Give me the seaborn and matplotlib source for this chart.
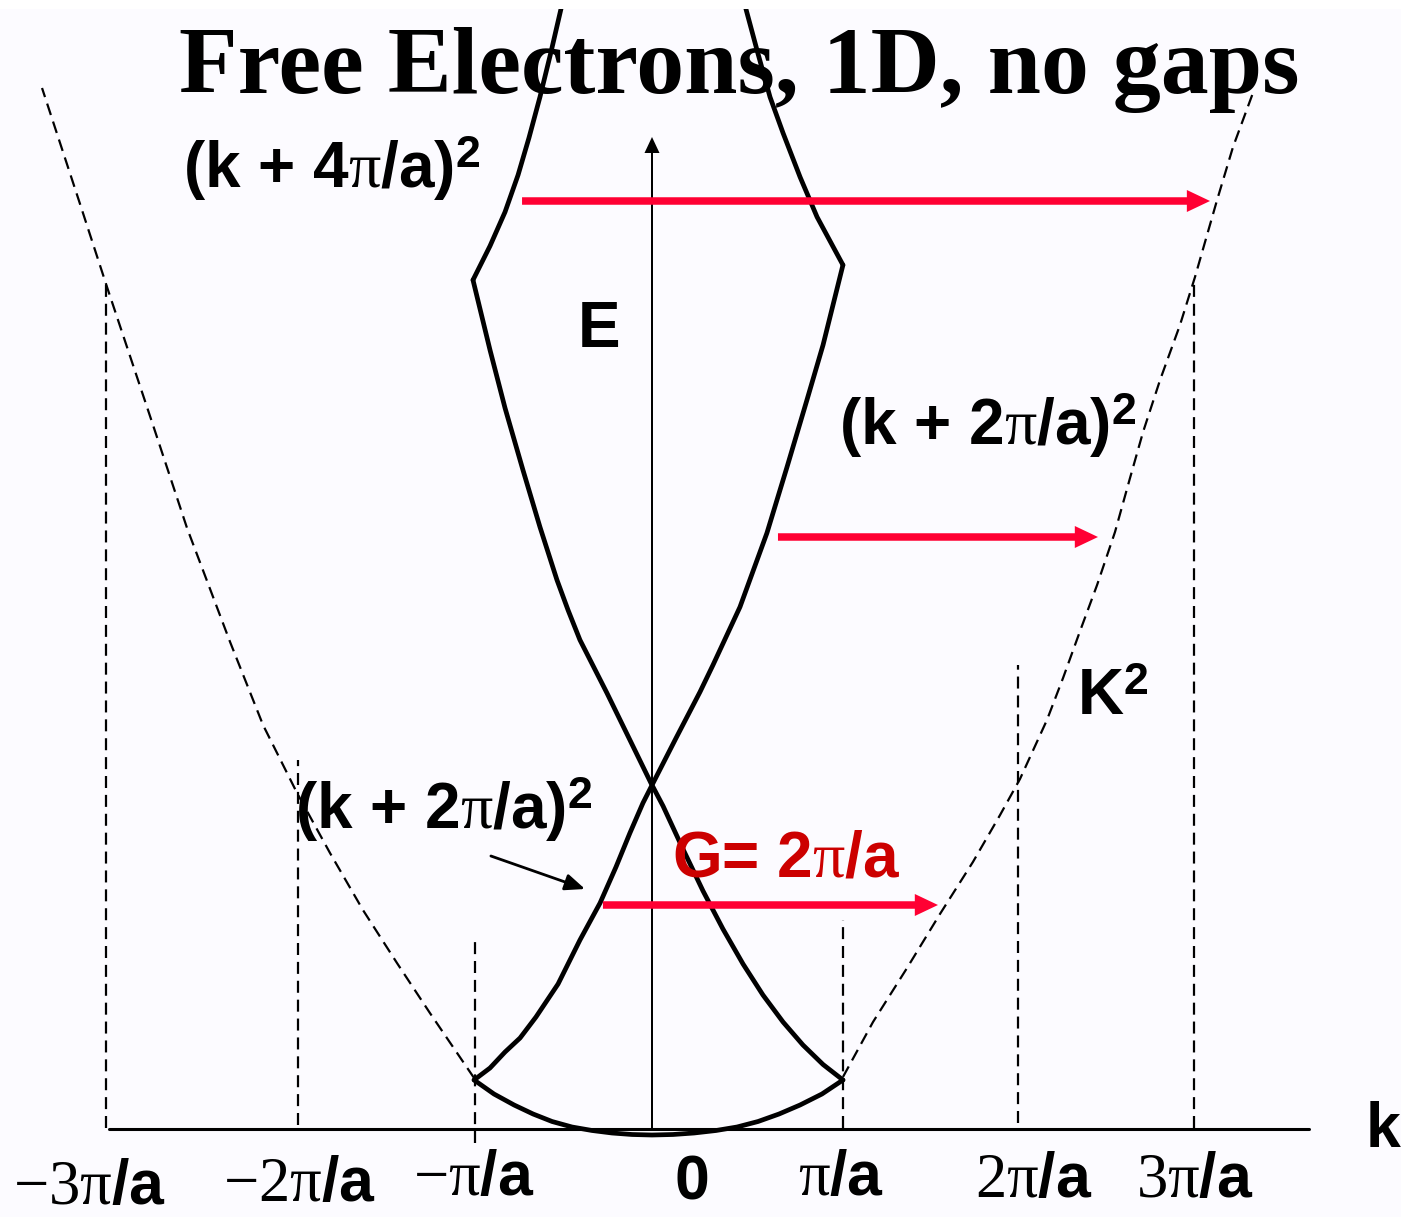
import matplotlib
matplotlib.use("Agg")
import matplotlib.pyplot as plt
import seaborn as sns

# k in units of pi/a, E in arbitrary energy units (k axis at E = 0)

# free-electron parabola K^2 outside the first zone (dashed)
k2_left_k = [-0.983, -1.227, -1.409, -1.597, -1.779, -1.961, -2.149, -2.331,
             -2.569, -2.757, -3.011, -3.160, -3.370]
k2_left_E = [0.51, 1.16, 1.66, 2.19, 2.76, 3.36, 4.04, 4.87,
             6.01, 7.04, 8.42, 9.25, 10.41]
k2_right_k = [1.055, 1.221, 1.409, 1.591, 1.773, 1.923, 2.033, 2.182, 2.271, 2.365,
              2.459, 2.558, 2.641, 2.713, 2.807, 2.917, 3.000, 3.122, 3.210, 3.320]
k2_right_E = [0.52, 1.07, 1.61, 2.15, 2.67, 3.14, 3.50, 4.09, 4.51, 4.98,
              5.44, 5.97, 6.51, 6.97, 7.49, 8.04, 8.52, 9.29, 9.82, 10.36]

# lowest band, k^2 inside the first zone
band1_k = [-0.983, -0.873, -0.762, -0.657, -0.552, -0.442, -0.331, -0.221, -0.110, 0.0,
           0.116, 0.232, 0.354, 0.470, 0.586, 0.702, 0.818, 0.939, 1.055]
band1_E = [0.49, 0.35, 0.24, 0.15, 0.075, 0.02, -0.015, -0.04, -0.055, -0.06,
           -0.055, -0.04, -0.015, 0.02, 0.075, 0.15, 0.24, 0.35, 0.49]

# (k - 2pi/a)^2 folded back into the first zone
band_m2_k = [-0.989, -0.895, -0.812, -0.713, -0.619, -0.525, -0.464, -0.398, -0.249,
             -0.122, -0.006, 0.061, 0.171, 0.282, 0.392, 0.503, 0.613, 0.724, 0.834,
             0.945, 1.055]
band_m2_E = [8.49, 7.79, 7.21, 6.59, 6.02, 5.49, 5.19, 4.89, 4.36,
             3.89, 3.46, 3.23, 2.80, 2.38, 2.00, 1.65, 1.34, 1.07, 0.84,
             0.645, 0.49]

# (k + 2pi/a)^2 folded back into the first zone
band_p2_k = [1.055, 0.945, 0.856, 0.746, 0.635, 0.486, 0.337, 0.265, 0.133, 0.006,
             -0.050, -0.122, -0.199, -0.287, -0.398, -0.519, -0.641, -0.729, -0.812,
             -0.895, -0.983]
band_p2_E = [8.64, 7.84, 7.29, 6.62, 5.96, 5.22, 4.64, 4.37, 3.91, 3.46,
             3.26, 2.96, 2.62, 2.26, 1.89, 1.45, 1.12, 0.91, 0.77,
             0.61, 0.49]

# (k + 4pi/a)^2 and (k - 4pi/a)^2 branches
band_p4_k = [-0.989, -0.895, -0.812, -0.740, -0.680, -0.619, -0.558, -0.503, -0.486]
band_p4_E = [8.49, 8.83, 9.17, 9.54, 9.91, 10.32, 10.77, 11.20, 11.34]
band_m4_k = [1.055, 0.912, 0.818, 0.724, 0.652, 0.580, 0.519, 0.503]
band_m4_E = [8.64, 9.12, 9.52, 9.96, 10.32, 10.79, 11.20, 11.34]

# zone boundaries (dashed verticals) and their visible extent
zone_k = [-3.017, -1.956, -0.978, 1.055, 2.022, 2.994]
zone_top = [8.49, 3.69, 1.93, 2.09, 4.64, 8.49]
zone_bottom = [0.01, 0.04, -0.14, 0.01, 0.06, 0.01]

# k axis extent and top of the E axis
k_axis = [-3.0, 3.63]
E_axis_top = 9.92

# translations by a reciprocal lattice vector G
shift_from_k = [-0.718, 0.696, -0.271]
shift_to_k = [3.083, 2.464, 1.580]
shift_E = [9.28, 5.92, 2.24]

SQ = r"$^{\mathsf{2}}$"
PI = r"$\mathrm{\pi}$"
tick_labels = [r"$\mathrm{-3\pi}$/a", r"$\mathrm{-2\pi}$/a", r"$\mathrm{-\pi}$/a", "0",
               PI + "/a", r"$\mathrm{2\pi}$/a", r"$\mathrm{3\pi}$/a"]

title = "Free Electrons, 1D, no gaps"

# ---------------------------------------------------------------- style
sns.set_theme(style="white")
plt.rcParams["font.family"] = ["Liberation Sans", "DejaVu Sans"]
plt.rcParams["text.color"] = "black"
plt.rcParams["mathtext.fontset"] = "custom"
plt.rcParams["mathtext.rm"] = "Liberation Serif"
plt.rcParams["mathtext.it"] = "Liberation Serif:italic"
plt.rcParams["mathtext.bf"] = "Liberation Serif:bold"
plt.rcParams["mathtext.sf"] = "Liberation Sans:bold"

BG = "#FCFBFF"
ARROW_RED = "#FF0033"
TEXT_RED = "#CC0000"
DASH = (0, (5.4, 3.1))

W, H = 1401, 1217
fig = plt.figure(figsize=(W / 100, H / 100), dpi=100, facecolor="white")
ax = fig.add_axes([0, 0, 1, 1 - 9 / H])
ax.set_facecolor(BG)
ax.set_xlim(-652 / 181, (W - 652) / 181)
ax.set_ylim((1129 - H) / 100, (1129 - 9) / 100)
ax.set_xticks([])
ax.set_yticks([])
sns.despine(ax=ax, left=True, bottom=True)


def curve(k, E, dashed=False):
    sns.lineplot(x=k, y=E, ax=ax, sort=False, estimator=None, color="black",
                 linewidth=1.6 if dashed else 3.4,
                 linestyle=DASH if dashed else "-", zorder=3)


# dashed K^2 parabola and zone boundaries
curve(k2_left_k, k2_left_E, dashed=True)
curve(k2_right_k, k2_right_E, dashed=True)
ax.vlines(zone_k, zone_bottom, zone_top, colors="black", linewidth=1.6,
          linestyles=[DASH], zorder=2)

# k axis and E axis
ax.plot(k_axis, [0, 0], color="black", linewidth=2.2, zorder=2)
ax.arrow(0, 0, 0, E_axis_top, width=0.011, head_width=0.083, head_length=0.16,
         length_includes_head=True, color="black", linewidth=0, zorder=4)

# folded bands
curve(band1_k, band1_E)
curve(band_m2_k, band_m2_E)
curve(band_p2_k, band_p2_E)
curve(band_p4_k, band_p4_E)
curve(band_m4_k, band_m4_E)

# G translations
for k0, k1, e in zip(shift_from_k, shift_to_k, shift_E):
    ax.arrow(k0, e, k1 - k0, 0, width=0.075, head_width=0.22, head_length=0.128,
             length_includes_head=True, color=ARROW_RED, linewidth=0, zorder=5)

# pointer to the (k + 2pi/a)^2 branch
ax.annotate("", xy=(-0.370, 2.40), xytext=(-0.890, 2.73),
            arrowprops=dict(arrowstyle="-|>,head_length=12,head_width=5",
                            mutation_scale=1, color="black", lw=2.0,
                            shrinkA=0, shrinkB=0), zorder=5)

# texts
ax.text(0.481, 10.36, title, ha="center", va="baseline", fontsize=69,
        fontweight="bold", family=["Liberation Serif"], color="black", zorder=6)

lab = dict(fontsize=46, fontweight="bold", va="baseline", ha="left", zorder=6)
ax.text(-2.591, 9.41, "(k + 4" + PI + "/a)" + SQ, **lab)
ax.text(1.033, 6.84, "(k + 2" + PI + "/a)" + SQ, **lab)
ax.text(-1.972, 3.00, "(k + 2" + PI + "/a)" + SQ, **lab)
ax.text(-0.409, 7.82, "E", **lab)
ax.text(2.348, 4.14, "K" + SQ, **lab)
ax.text(0.110, 2.53, "G= 2" + PI + "/a", color=TEXT_RED, **lab)
ax.text(3.945, -0.18, "k", **{**lab, "fontsize": 45})

tick_pos = [(-3.530, -0.75), (-2.370, -0.72), (-1.320, -0.66), (0.127, -0.71),
            (0.807, -0.66), (1.785, -0.68), (2.674, -0.68)]
for (x, y), t in zip(tick_pos, tick_labels):
    ax.text(x, y, t, fontsize=45, fontweight="bold", ha="left", va="baseline")

fig.savefig("out.png", dpi=100, facecolor="white")
